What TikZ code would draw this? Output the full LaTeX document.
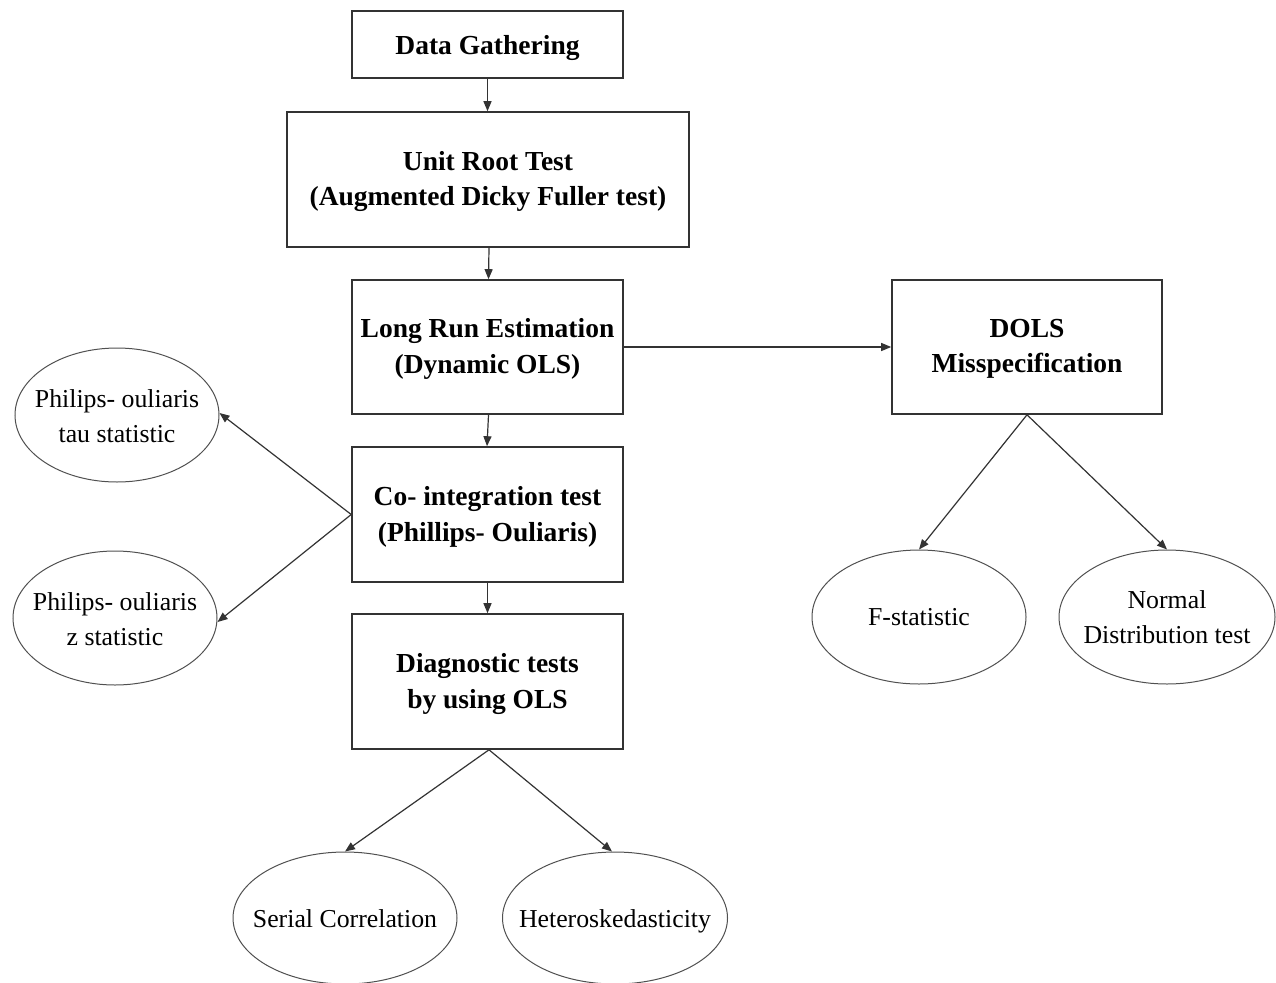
\documentclass[tikz,border=0pt]{standalone}
\usepackage{fontspec}
\setmainfont{Liberation Serif}
\usetikzlibrary{shapes.geometric,arrows.meta}
\definecolor{linec}{HTML}{333333}
\definecolor{ellc}{HTML}{505050}
\tikzset{
  stepbox/.style={draw=linec, line width=1.6pt, rectangle, inner sep=0pt},
  boxtext/.style={align=center, inner sep=0pt, font=\fontsize{27.5}{35.5}\selectfont\bfseries},
  statell/.style={draw=ellc, line width=1pt, ellipse, inner sep=0pt,
    minimum width=204pt, minimum height=134pt},
  elltext/.style={align=center, font=\fontsize{25.8}{35.5}\selectfont, inner sep=0pt}
}
\tikzset{conn/.style={draw=linec, line width=1.2pt, -{Triangle[length=10pt,width=8pt]}}}
\begin{document}
\begin{tikzpicture}[x=1pt,y=-1pt]
\useasboundingbox (0,0) rectangle (1276,982);
\clip (0,0) rectangle (1276,982);
\fill[white] (0,0) rectangle (1276,982);
% boxes
\node[stepbox, minimum width=271pt, minimum height=67pt] (gather) at (487.5,44.5) {};
\node[boxtext] (gathertext) at ([yshift=-3pt]gather.center) {Data Gathering};
\node[stepbox, minimum width=402pt, minimum height=135pt] (unit) at (488,179.5) {};
\node[boxtext] (unittext) at ([yshift=-2pt]unit.center) {Unit Root Test\\(Augmented Dicky Fuller test)};
\node[stepbox, minimum width=271pt, minimum height=134pt] (longrun) at (487.5,347) {};
\node[boxtext] (longruntext) at ([yshift=-2pt]longrun.center) {Long Run Estimation\\(Dynamic OLS)};
\node[stepbox, minimum width=270pt, minimum height=134pt] (dols) at (1027,347) {};
\node[boxtext] (dolstext) at ([yshift=-2pt]dols.center) {DOLS\\Misspecification};
\node[stepbox, minimum width=271pt, minimum height=135pt] (coint) at (487.5,514.5) {};
\node[boxtext] (cointtext) at ([yshift=-2.5pt]coint.center) {Co- integration test\\(Phillips- Ouliaris)};
\node[stepbox, minimum width=271pt, minimum height=135pt] (diag) at (487.5,681.5) {};
\node[boxtext] (diagtext) at ([yshift=-2.5pt]diag.center) {Diagnostic tests\\by using OLS};
% ellipses
\node[statell] (tau) at (117,415) {};
\node[elltext] (tautext) at ([yshift=-1pt]tau.center) {Philips- ouliaris\\tau statistic};
\node[statell] (zstat) at (115,618) {};
\node[elltext] (ztext) at ([yshift=-1pt]zstat.center) {Philips- ouliaris\\z statistic};
\node[statell, minimum width=214pt] (fstat) at (919,617) {};
\node[elltext] (ftext) at (fstat.center) {F-statistic};
\node[statell, minimum width=216pt] (normal) at (1167,617) {};
\node[elltext] (normaltext) at (normal.center) {Normal\\Distribution test};
\node[statell, minimum width=224pt, minimum height=132pt] (serial) at (345,918) {};
\node[elltext] (serialtext) at ([yshift=-1pt]serial.center) {Serial Correlation};
\node[statell, minimum width=225pt, minimum height=132pt] (hetero) at (615,918) {};
\node[elltext] (heterotext) at ([yshift=-3pt]hetero.center) {Heteroskedasticity};
% connectors
\draw[conn] (gather.south) -- (gather.south |- unit.north);
\draw[conn] ([xshift=1pt]unit.south) -- ([xshift=1pt]longrun.north);
\draw[conn] (longrun.east) -- (dols.west);
\draw[conn] ([xshift=1pt]longrun.south) -- ([xshift=-0.5pt]coint.north);
\draw[conn] (coint.west) -- ([yshift=2pt]tau.east);
\draw[conn] (coint.west) -- ([yshift=-4pt]zstat.east);
\draw[conn] (coint.south) -- (diag.north);
\draw[conn] ([xshift=1.5pt]diag.south) -- (serial.north);
\draw[conn] ([xshift=1.5pt]diag.south) -- ([xshift=-3pt]hetero.north);
\draw[conn] (dols.south) -- (fstat.north);
\draw[conn] (dols.south) -- (normal.north);
\end{tikzpicture}
\end{document}
